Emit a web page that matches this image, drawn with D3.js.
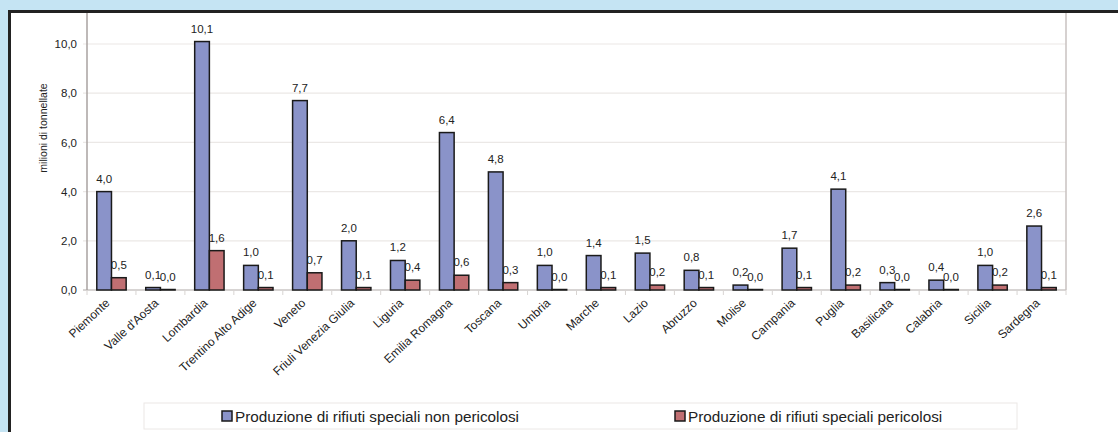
<!DOCTYPE html>
<html>
<head>
<meta charset="utf-8">
<script src="https://cdn.jsdelivr.net/npm/d3@7"></script>
<style>
  body { margin: 0; background: #c5e4f3; }
  svg { display: block; font-family: "Liberation Sans", Arial, sans-serif; }
</style>
</head>
<body>
<div id="chart"></div>
<script>
var regioni = ["Piemonte", "Valle d'Aosta", "Lombardia", "Trentino Alto Adige", "Veneto",
  "Friuli Venezia Giulia", "Liguria", "Emilia Romagna", "Toscana", "Umbria", "Marche",
  "Lazio", "Abruzzo", "Molise", "Campania", "Puglia", "Basilicata", "Calabria", "Sicilia", "Sardegna"];
var nonPericolosi = [4.0, 0.1, 10.1, 1.0, 7.7, 2.0, 1.2, 6.4, 4.8, 1.0, 1.4, 1.5, 0.8, 0.2, 1.7, 4.1, 0.3, 0.4, 1.0, 2.6];
var pericolosi = [0.5, 0.02, 1.6, 0.1, 0.7, 0.1, 0.4, 0.6, 0.3, 0.02, 0.1, 0.2, 0.1, 0.02, 0.1, 0.2, 0.02, 0.02, 0.2, 0.1];
var yTicks = [0, 2, 4, 6, 8, 10];
var serie = ["Produzione di rifiuti speciali non pericolosi", "Produzione di rifiuti speciali pericolosi"];
var colori = ["#8a93c9", "#c06f72"];

var W = 1118, H = 432;
var margin = { top: 13, right: 52, bottom: 142, left: 87 };
var width = W - margin.left - margin.right,
  height = H - margin.top - margin.bottom;

var svg = d3.select("#chart").append("svg")
  .attr("width", W)
  .attr("height", H);

// cornice
svg.append("rect").attr("x", 0).attr("y", 0).attr("width", W).attr("height", H).attr("fill", "#c5e4f3");
svg.append("rect").attr("x", 8).attr("y", 10).attr("width", W).attr("height", H).attr("fill", "#fff");
svg.append("line").attr("x1", 8).attr("x2", W).attr("y1", 11.5).attr("y2", 11.5)
  .attr("stroke", "#222").attr("stroke-width", 3);
svg.append("line").attr("x1", 9.5).attr("x2", 9.5).attr("y1", 10).attr("y2", H)
  .attr("stroke", "#222").attr("stroke-width", 3);

var g = svg.append("g").attr("transform", "translate(" + margin.left + "," + margin.top + ")");

var x0 = d3.scaleBand().domain(regioni).range([0, width]);
var x1 = d3.scaleBand().domain([0, 1]).range([x0.bandwidth() * 0.2, x0.bandwidth() * 0.8]);
var y = d3.scaleLinear().domain([0, 10]).range([height, height - 246]);

// griglia
g.selectAll(".grid").data(yTicks).enter().append("line")
  .attr("x1", -4).attr("x2", width)
  .attr("y1", function(d) { return y(d); })
  .attr("y2", function(d) { return y(d); })
  .attr("stroke", function(d) { return d === 0 ? "#b0aaa8" : "#ebe8e6"; })
  .attr("stroke-width", 1.2);

g.append("g")
  .call(d3.axisLeft(y).tickValues(yTicks).tickSize(0).tickPadding(10)
    .tickFormat(function(d) { return d3.format(".1f")(d).replace(".", ","); }))
  .call(function(a) { a.select(".domain").remove(); })
  .selectAll("text")
  .attr("font-size", 11.5)
  .attr("fill", "#222");

g.append("line").attr("x1", 0).attr("x2", 0).attr("y1", 0).attr("y2", height)
  .attr("stroke", "#a8a2a0").attr("stroke-width", 1.5);
g.append("line").attr("x1", width).attr("x2", width).attr("y1", 0).attr("y2", height)
  .attr("stroke", "#c8c2c0").attr("stroke-width", 1.5);

// tacche asse x
var sep = regioni.map(function(d) { return x0(d); }).concat([width]);
g.selectAll(".tick-x").data(sep).enter().append("line")
  .attr("x1", function(d) { return d; }).attr("x2", function(d) { return d; })
  .attr("y1", height).attr("y2", height + 5)
  .attr("stroke", "#d8d4d2");

g.append("g")
  .attr("transform", "translate(0," + height + ")")
  .call(d3.axisBottom(x0).tickSize(0).tickPadding(0))
  .call(function(a) { a.select(".domain").remove(); })
  .selectAll("text")
  .attr("font-size", 12)
  .attr("fill", "#222")
  .style("text-anchor", "end")
  .attr("dx", "0")
  .attr("dy", "0")
  .attr("transform", "translate(-1,14) rotate(-43)");

svg.append("text")
  .attr("transform", "translate(47," + 128 + ") rotate(-90)")
  .attr("text-anchor", "middle")
  .attr("font-size", 10.5)
  .attr("fill", "#222")
  .text("milioni di tonnellate");

var dati = regioni.map(function(r, i) { return { r: r, v: [nonPericolosi[i], pericolosi[i]] }; });
var fmt = function(v) { return d3.format(".1f")(v).replace(".", ","); };

// etichette (sotto le barre, come nell'originale)
var gruppi = g.selectAll(".gruppo").data(dati).enter().append("g")
  .attr("transform", function(d) { return "translate(" + x0(d.r) + ",0)"; });

gruppi.selectAll(".lab").data(function(d) { return d.v; }).enter().append("text")
  .attr("x", function(v, j) { return x1(j) + x1.bandwidth() / 2; })
  .attr("y", function(v) { return y(v) - 9; })
  .attr("text-anchor", "middle")
  .attr("font-size", 11.5)
  .attr("fill", "#222")
  .text(fmt);

gruppi.selectAll(".bar").data(function(d) { return d.v; }).enter().append("rect")
  .attr("x", function(v, j) { return x1(j); })
  .attr("y", function(v) { return y(v); })
  .attr("width", x1.bandwidth())
  .attr("height", function(v) { return y(0) - y(v); })
  .attr("fill", function(v, j) { return colori[j]; })
  .attr("stroke", "#1a1a1a")
  .attr("stroke-width", 1.5);

// legenda
var leg = svg.append("g");
leg.append("rect").attr("x", 144).attr("y", 403).attr("width", 873).attr("height", 26)
  .attr("fill", "#fff").attr("stroke", "#ebe8e6");
var legX = [222, 675];
serie.forEach(function(s, i) {
  leg.append("rect").attr("x", legX[i]).attr("y", 411).attr("width", 10).attr("height", 10)
    .attr("fill", colori[i]).attr("stroke", "#1a1a1a").attr("stroke-width", 1.5);
  leg.append("text").attr("x", legX[i] + 13).attr("y", 421.5)
    .attr("font-size", 15.3).attr("fill", "#222").text(s);
});
</script>
</body>
</html>
